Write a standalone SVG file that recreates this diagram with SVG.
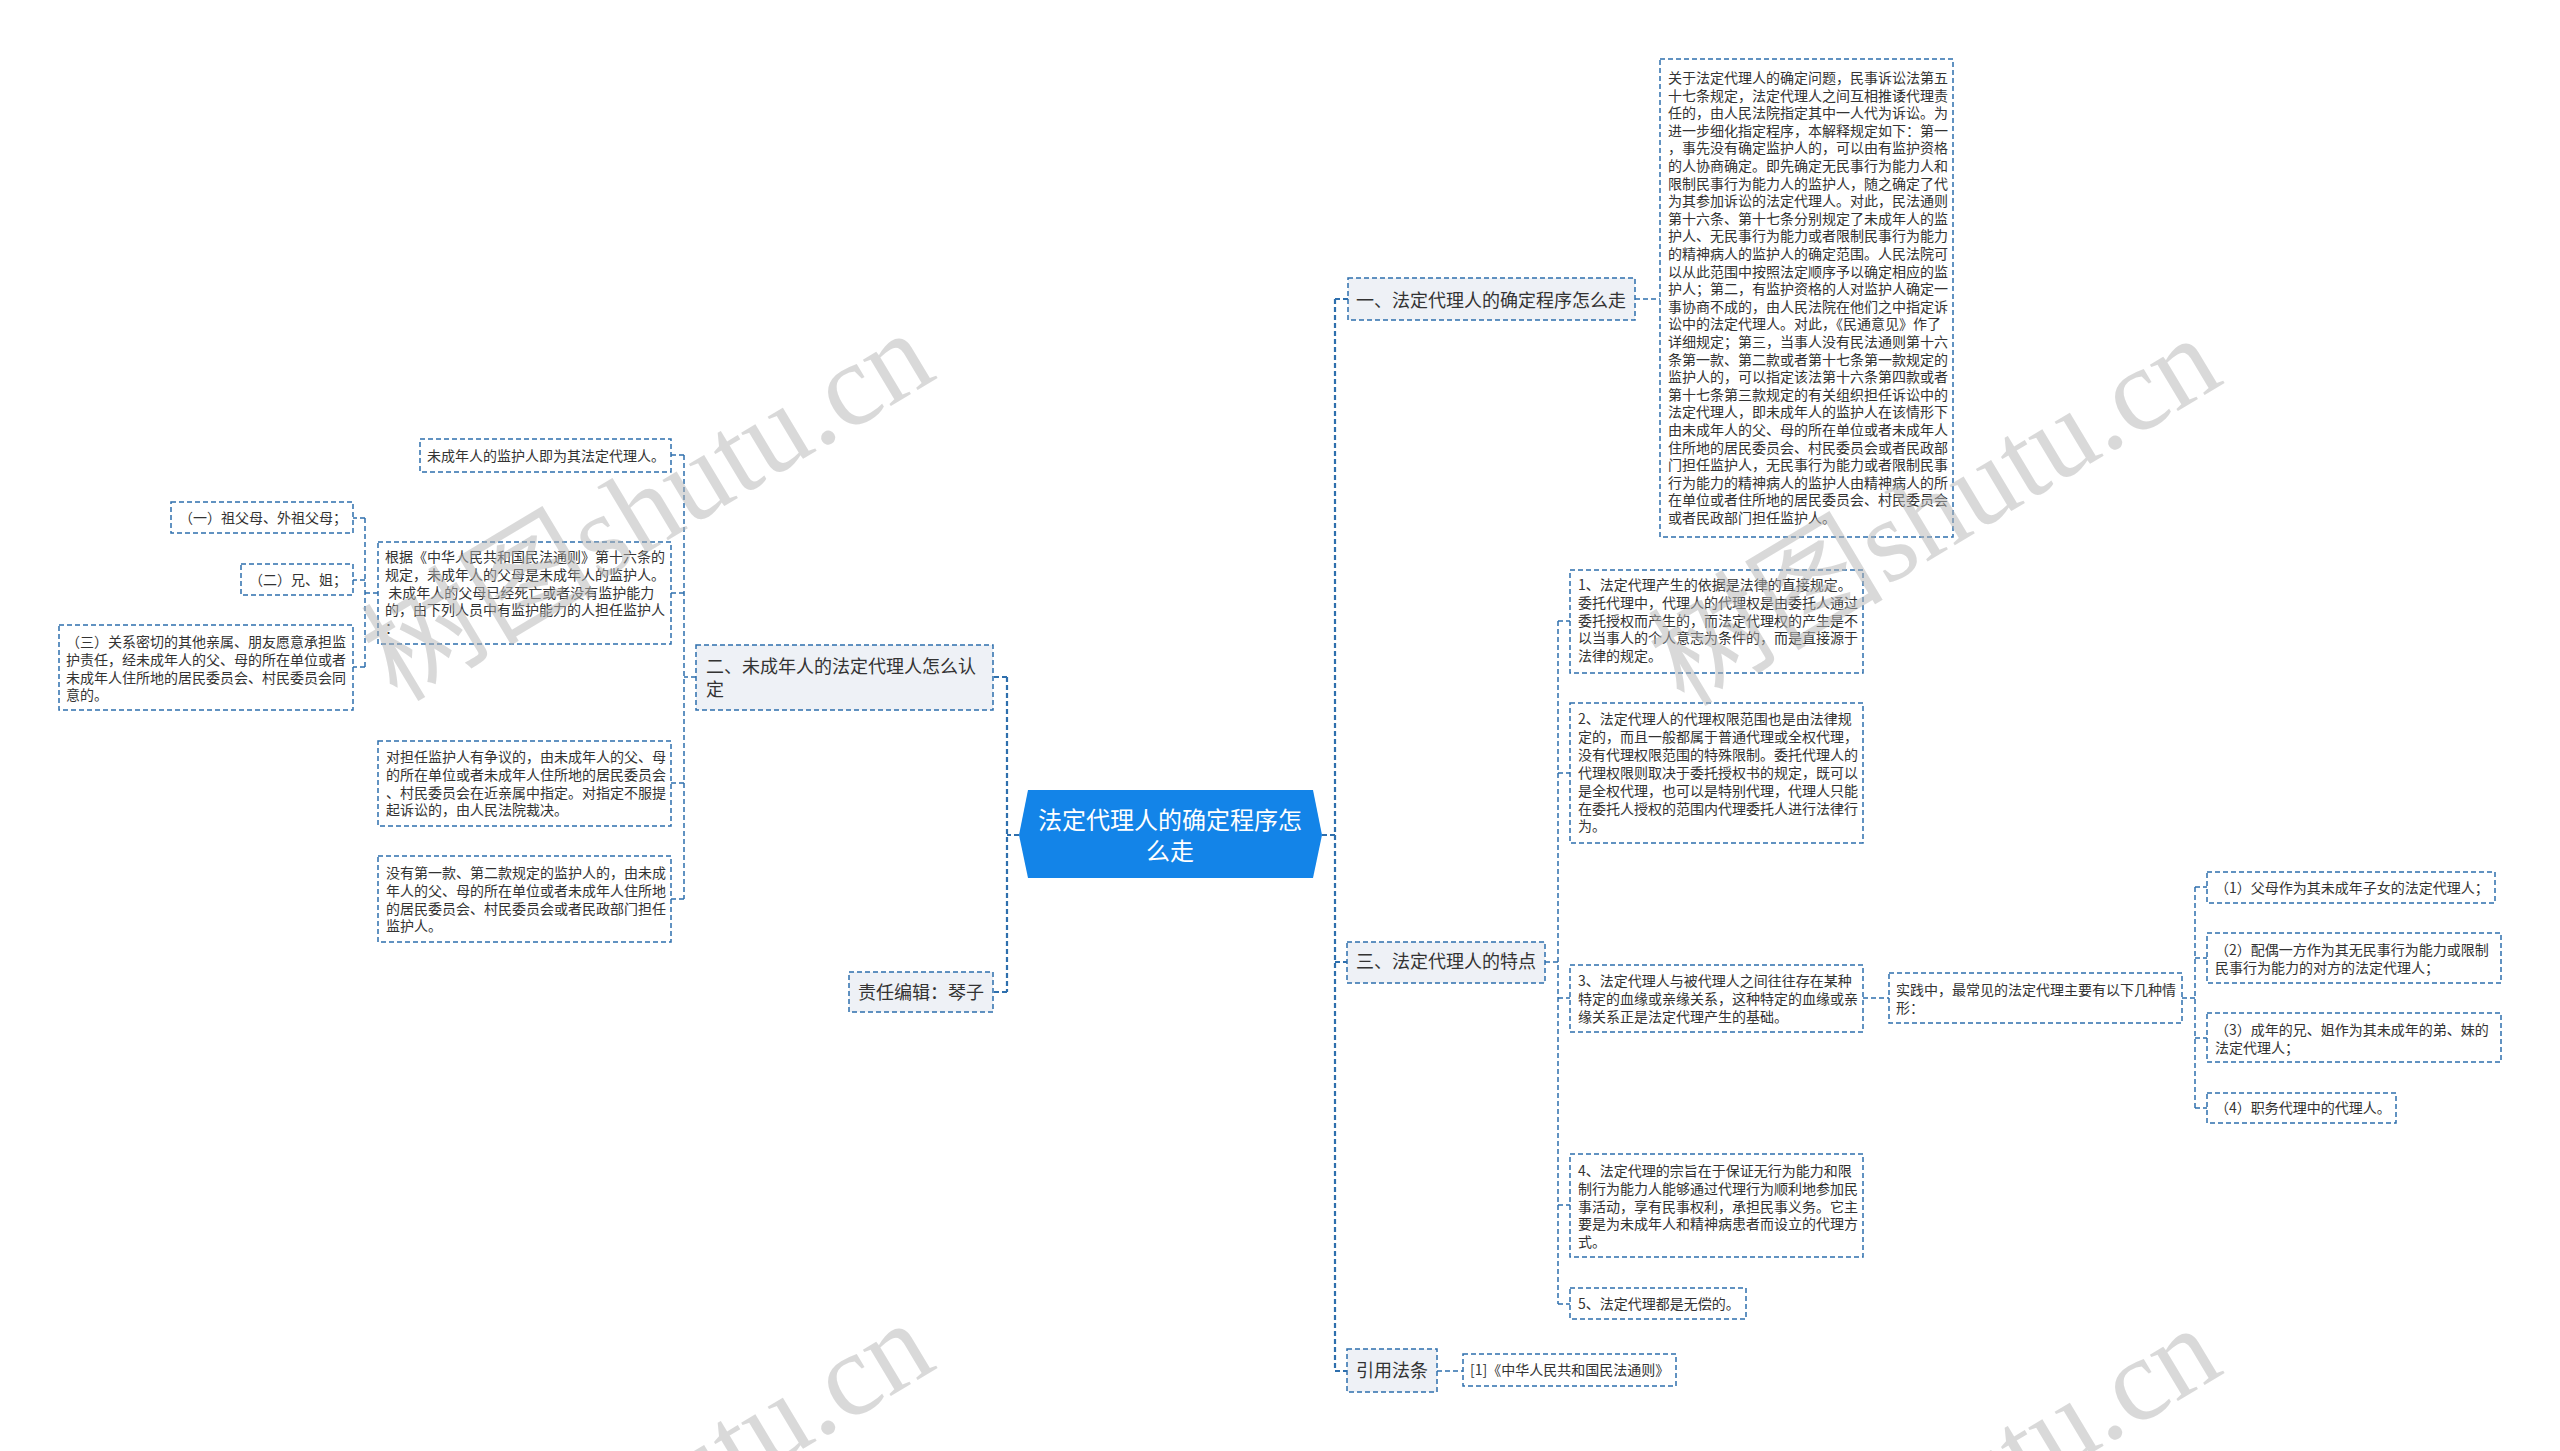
<svg xmlns="http://www.w3.org/2000/svg" width="2560" height="1451" viewBox="0 0 2560 1451">
<style>
.box{fill:#fff;stroke:#2e6fad;stroke-width:1.5;stroke-dasharray:5 3}
.branch{fill:#eef1f6;stroke:#2e6fad;stroke-width:1.5;stroke-dasharray:5 3}
.t{font-family:"Noto Sans CJK SC","Noto Sans",sans-serif;font-size:14px;fill:#333}
.tb{font-family:"Noto Sans CJK SC","Noto Sans",sans-serif;font-size:18px;fill:#333}
.tc{font-family:"Noto Sans CJK SC","Noto Sans",sans-serif;font-size:24px;fill:#fff}
.conn{fill:none;stroke:#2e6fad;stroke-width:1.5;stroke-dasharray:5 3}
.main{stroke-width:2.2}
.wm{font-family:"Liberation Serif","Noto Sans CJK SC",serif;font-size:118px;fill:#b5b5b5;opacity:.5}
</style>
<rect width="2560" height="1451" fill="#fff"/>

<g id="connectors">
<path class="conn main" d="M1322,835H1335M1335,299V1371M1335,299H1348M1335,962H1347M1335,1371H1347"/>
<path class="conn main" d="M1019,835H1007M1007,677V992M1007,677H993M1007,992H993"/>
<path class="conn" d="M1635,299H1660"/>
<path class="conn" d="M1545,962H1558M1558,621V1304M1558,621H1570M1558,773H1570M1558,998H1570M1558,1205H1570M1558,1304H1570"/>
<path class="conn" d="M1863,998H1889"/>
<path class="conn" d="M2182,998H2195M2195,887V1108M2195,887H2207M2195,958H2207M2195,1038H2207M2195,1108H2207"/>
<path class="conn" d="M1437,1371H1463"/>
<path class="conn" d="M696,677H684M684,455V899M684,455H671M684,593H671M684,783H671M684,899H671"/>
<path class="conn" d="M378,593H365M365,518V667M365,518H353M365,580H353M365,667H353"/>
</g>

<g id="center">
<polygon points="1028,790 1313,790 1322,835 1313,878 1028,878 1019,835" fill="#1384e8"/>
<text class="tc" text-anchor="middle"><tspan x="1170" y="829">法定代理人的确定程序怎</tspan><tspan x="1170" y="860">么走</tspan></text>
</g>

<g id="branch1">
<rect class="branch" x="1348" y="278" width="287" height="42"/>
<text class="tb" x="1356" y="307">一、法定代理人的确定程序怎么走</text>
</g>

<g id="n-procedure">
<rect class="box" x="1660" y="59" width="293" height="478"/>
<text class="t">
<tspan x="1668" y="83">关于法定代理人的确定问题，民事诉讼法第五</tspan>
<tspan x="1668" dy="17.6">十七条规定，法定代理人之间互相推诿代理责</tspan>
<tspan x="1668" dy="17.6">任的，由人民法院指定其中一人代为诉讼。为</tspan>
<tspan x="1668" dy="17.6">进一步细化指定程序，本解释规定如下：第一</tspan>
<tspan x="1668" dy="17.6">，事先没有确定监护人的，可以由有监护资格</tspan>
<tspan x="1668" dy="17.6">的人协商确定。即先确定无民事行为能力人和</tspan>
<tspan x="1668" dy="17.6">限制民事行为能力人的监护人，随之确定了代</tspan>
<tspan x="1668" dy="17.6">为其参加诉讼的法定代理人。对此，民法通则</tspan>
<tspan x="1668" dy="17.6">第十六条、第十七条分别规定了未成年人的监</tspan>
<tspan x="1668" dy="17.6">护人、无民事行为能力或者限制民事行为能力</tspan>
<tspan x="1668" dy="17.6">的精神病人的监护人的确定范围。人民法院可</tspan>
<tspan x="1668" dy="17.6">以从此范围中按照法定顺序予以确定相应的监</tspan>
<tspan x="1668" dy="17.6">护人；第二，有监护资格的人对监护人确定一</tspan>
<tspan x="1668" dy="17.6">事协商不成的，由人民法院在他们之中指定诉</tspan>
<tspan x="1668" dy="17.6">讼中的法定代理人。对此，《民通意见》作了</tspan>
<tspan x="1668" dy="17.6">详细规定；第三，当事人没有民法通则第十六</tspan>
<tspan x="1668" dy="17.6">条第一款、第二款或者第十七条第一款规定的</tspan>
<tspan x="1668" dy="17.6">监护人的，可以指定该法第十六条第四款或者</tspan>
<tspan x="1668" dy="17.6">第十七条第三款规定的有关组织担任诉讼中的</tspan>
<tspan x="1668" dy="17.6">法定代理人，即未成年人的监护人在该情形下</tspan>
<tspan x="1668" dy="17.6">由未成年人的父、母的所在单位或者未成年人</tspan>
<tspan x="1668" dy="17.6">住所地的居民委员会、村民委员会或者民政部</tspan>
<tspan x="1668" dy="17.6">门担任监护人，无民事行为能力或者限制民事</tspan>
<tspan x="1668" dy="17.6">行为能力的精神病人的监护人由精神病人的所</tspan>
<tspan x="1668" dy="17.6">在单位或者住所地的居民委员会、村民委员会</tspan>
<tspan x="1668" dy="17.6">或者民政部门担任监护人。</tspan>
</text>
</g>

<g id="branch3">
<rect class="branch" x="1347" y="942" width="198" height="41"/>
<text class="tb" x="1356" y="968">三、法定代理人的特点</text>
</g>

<g id="n-feature1">
<rect class="box" x="1570" y="570" width="293" height="103"/>
<text class="t">
<tspan x="1578" y="590">1、法定代理产生的依据是法律的直接规定。</tspan>
<tspan x="1578" dy="17.8">委托代理中，代理人的代理权是由委托人通过</tspan>
<tspan x="1578" dy="17.8">委托授权而产生的，而法定代理权的产生是不</tspan>
<tspan x="1578" dy="17.8">以当事人的个人意志为条件的，而是直接源于</tspan>
<tspan x="1578" dy="17.8">法律的规定。</tspan>
</text>
</g>

<g id="n-feature2">
<rect class="box" x="1570" y="703" width="293" height="140"/>
<text class="t">
<tspan x="1578" y="724">2、法定代理人的代理权限范围也是由法律规</tspan>
<tspan x="1578" dy="17.9">定的，而且一般都属于普通代理或全权代理，</tspan>
<tspan x="1578" dy="17.9">没有代理权限范围的特殊限制。委托代理人的</tspan>
<tspan x="1578" dy="17.9">代理权限则取决于委托授权书的规定，既可以</tspan>
<tspan x="1578" dy="17.9">是全权代理，也可以是特别代理，代理人只能</tspan>
<tspan x="1578" dy="17.9">在委托人授权的范围内代理委托人进行法律行</tspan>
<tspan x="1578" dy="17.9">为。</tspan>
</text>
</g>

<g id="n-feature3">
<rect class="box" x="1570" y="965" width="293" height="67"/>
<text class="t">
<tspan x="1578" y="986">3、法定代理人与被代理人之间往往存在某种</tspan>
<tspan x="1578" dy="17.8">特定的血缘或亲缘关系，这种特定的血缘或亲</tspan>
<tspan x="1578" dy="17.8">缘关系正是法定代理产生的基础。</tspan>
</text>
</g>

<g id="n-feature4">
<rect class="box" x="1570" y="1154" width="293" height="103"/>
<text class="t">
<tspan x="1578" y="1176">4、法定代理的宗旨在于保证无行为能力和限</tspan>
<tspan x="1578" dy="17.8">制行为能力人能够通过代理行为顺利地参加民</tspan>
<tspan x="1578" dy="17.8">事活动，享有民事权利，承担民事义务。它主</tspan>
<tspan x="1578" dy="17.8">要是为未成年人和精神病患者而设立的代理方</tspan>
<tspan x="1578" dy="17.8">式。</tspan>
</text>
</g>

<g id="n-feature5">
<rect class="box" x="1570" y="1288" width="176" height="31"/>
<text class="t" x="1578" y="1309">5、法定代理都是无偿的。</text>
</g>

<g id="n-practice">
<rect class="box" x="1889" y="973" width="293" height="50"/>
<text class="t">
<tspan x="1896" y="995">实践中，最常见的法定代理主要有以下几种情</tspan>
<tspan x="1896" dy="17.8">形：</tspan>
</text>
</g>

<g id="n-p1">
<rect class="box" x="2207" y="872" width="288" height="31"/>
<text class="t" x="2215" y="893">（1）父母作为其未成年子女的法定代理人；</text>
</g>

<g id="n-p2">
<rect class="box" x="2207" y="933" width="294" height="50"/>
<text class="t">
<tspan x="2215" y="955">（2）配偶一方作为其无民事行为能力或限制</tspan>
<tspan x="2215" dy="17.8">民事行为能力的对方的法定代理人；</tspan>
</text>
</g>

<g id="n-p3">
<rect class="box" x="2207" y="1013" width="294" height="49"/>
<text class="t">
<tspan x="2215" y="1035">（3）成年的兄、姐作为其未成年的弟、妹的</tspan>
<tspan x="2215" dy="17.8">法定代理人；</tspan>
</text>
</g>

<g id="n-p4">
<rect class="box" x="2207" y="1093" width="189" height="30"/>
<text class="t" x="2215" y="1113">（4）职务代理中的代理人。</text>
</g>

<g id="branch-law">
<rect class="branch" x="1347" y="1349" width="90" height="43"/>
<text class="tb" x="1356" y="1377">引用法条</text>
</g>

<g id="n-law1">
<rect class="box" x="1463" y="1354" width="213" height="32"/>
<text class="t" x="1470" y="1375">[1]《中华人民共和国民法通则》</text>
</g>

<g id="branch2">
<rect class="branch" x="696" y="645" width="297" height="65"/>
<text class="tb"><tspan x="706" y="673">二、未成年人的法定代理人怎么认</tspan><tspan x="706" y="696">定</tspan></text>
</g>

<g id="branch-editor">
<rect class="branch" x="849" y="972" width="144" height="40"/>
<text class="tb" x="858" y="999">责任编辑：琴子</text>
</g>

<g id="n-minor-a">
<rect class="box" x="420" y="439" width="251" height="33"/>
<text class="t" x="427" y="461">未成年人的监护人即为其法定代理人。</text>
</g>

<g id="n-minor-b">
<rect class="box" x="378" y="542" width="293" height="102"/>
<text class="t" xml:space="preserve"><tspan x="385" y="562">根据《中华人民共和国民法通则》第十六条的</tspan><tspan x="385" y="579.8">规定，未成年人的父母是未成年人的监护人。</tspan><tspan x="385" y="597.6"> 未成年人的父母已经死亡或者没有监护能力</tspan><tspan x="385" y="615.4">的，由下列人员中有监护能力的人担任监护人</tspan><tspan x="385" y="633.2">：</tspan></text>
</g>

<g id="n-minor-c">
<rect class="box" x="378" y="741" width="293" height="85"/>
<text class="t">
<tspan x="386" y="762">对担任监护人有争议的，由未成年人的父、母</tspan>
<tspan x="386" dy="17.8">的所在单位或者未成年人住所地的居民委员会</tspan>
<tspan x="386" dy="17.8">、村民委员会在近亲属中指定。对指定不服提</tspan>
<tspan x="386" dy="17.8">起诉讼的，由人民法院裁决。</tspan>
</text>
</g>

<g id="n-minor-d">
<rect class="box" x="378" y="856" width="293" height="86"/>
<text class="t">
<tspan x="386" y="878">没有第一款、第二款规定的监护人的，由未成</tspan>
<tspan x="386" dy="17.8">年人的父、母的所在单位或者未成年人住所地</tspan>
<tspan x="386" dy="17.8">的居民委员会、村民委员会或者民政部门担任</tspan>
<tspan x="386" dy="17.8">监护人。</tspan>
</text>
</g>

<g id="n-g1">
<rect class="box" x="171" y="502" width="182" height="31"/>
<text class="t" x="179" y="523">（一）祖父母、外祖父母；</text>
</g>

<g id="n-g2">
<rect class="box" x="241" y="564" width="112" height="31"/>
<text class="t" x="249" y="585">（二）兄、姐；</text>
</g>

<g id="n-g3">
<rect class="box" x="59" y="625" width="294" height="85"/>
<text class="t">
<tspan x="66" y="647">（三）关系密切的其他亲属、朋友愿意承担监</tspan>
<tspan x="66" dy="17.8">护责任，经未成年人的父、母的所在单位或者</tspan>
<tspan x="66" dy="17.8">未成年人住所地的居民委员会、村民委员会同</tspan>
<tspan x="66" dy="17.8">意的。</tspan>
</text>
</g>

<g id="watermark">
<text class="wm" text-anchor="middle" transform="translate(668,540) rotate(-31)">树图shutu.cn</text>
<text class="wm" text-anchor="middle" transform="translate(1955,545) rotate(-31)">树图shutu.cn</text>
<text class="wm" text-anchor="middle" transform="translate(668,1530) rotate(-31)">树图shutu.cn</text>
<text class="wm" text-anchor="middle" transform="translate(1955,1535) rotate(-31)">树图shutu.cn</text>
</g>
</svg>
